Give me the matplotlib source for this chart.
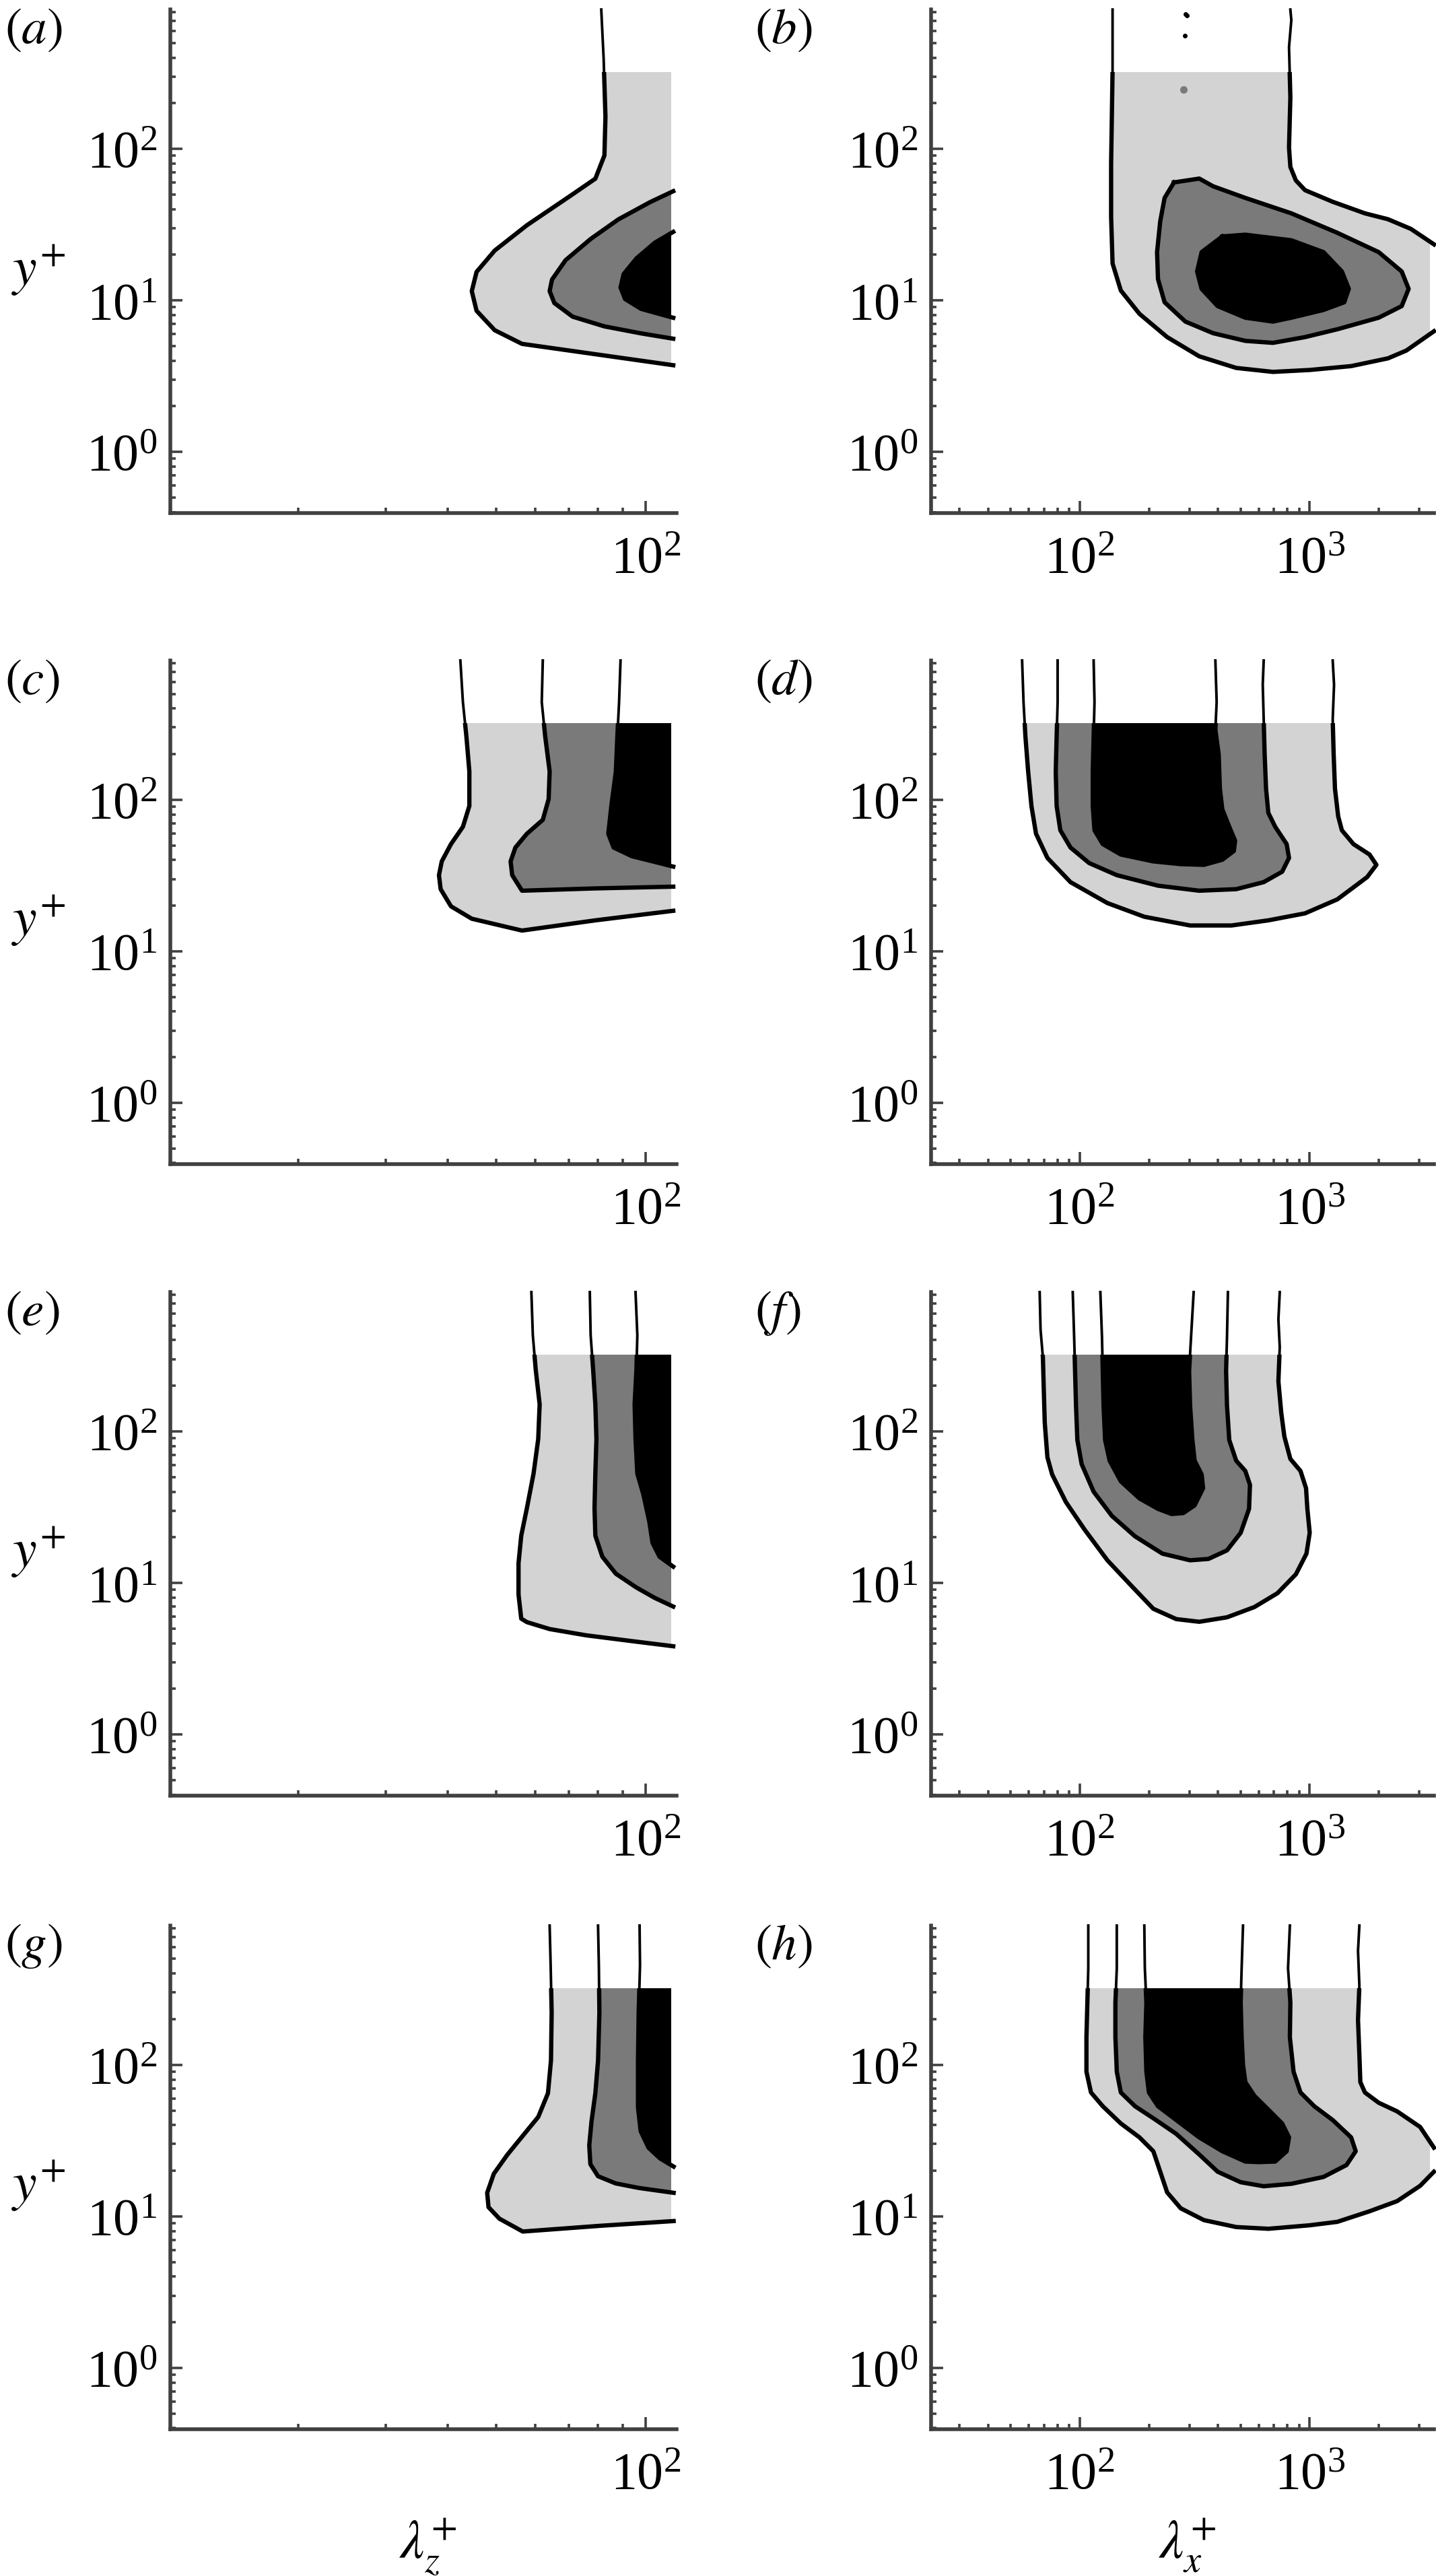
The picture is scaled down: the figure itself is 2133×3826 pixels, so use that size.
import numpy as np
import matplotlib
matplotlib.use("Agg")
import matplotlib.pyplot as plt
from matplotlib.patches import Rectangle
from matplotlib.ticker import LogLocator, NullFormatter

plt.rcParams['mathtext.fontset'] = 'stix'
plt.rcParams['font.family'] = ['Liberation Serif', 'DejaVu Serif']

# ---- data: contour outlines (lambda+, y+) ----
# levels: 1 = light grey, 2 = mid grey, 3 = black
a1 = [(81.4, 830), (82.3, 395), (83.0, 163), (82.6, 90.4), (79.2, 63.5), (71.3, 50.1), (57.7, 31.3),
      (49.7, 21.3), (45.7, 15.4), (44.7, 11.5), (45.7, 8.53), (49.7, 6.35), (56.4, 5.16), (113.6, 3.73)]
a2 = [(113.6, 52.5), (102.1, 44.5), (88.1, 34.2), (77.5, 25.4), (69.0, 18.4), (64.8, 13.7), (64.1, 11.5),
      (65.5, 9.6), (71.3, 7.8), (82.6, 6.73), (97.9, 6.05), (113.6, 5.58)]
a3 = [(113.6, 28.3), (104.3, 24.0), (95.8, 18.9), (90.3, 14.9), (89.0, 12.15), (90.9, 10.2),
      (97.9, 8.78), (113.6, 7.67)]

b1_left = [(139, 830), (139, 330), (138, 163), (137, 80.5), (137, 35.4), (139, 17.5), (151, 11.6),
           (182, 8.14), (240, 5.72), (331, 4.27), (479, 3.58), (692, 3.37), (1000, 3.47), (1514, 3.68),
           (2188, 4.14), (2630, 4.66), (3470, 6.25)]
b1_right = [(3470, 23.4), (2754, 29.6), (2188, 34.3), (1738, 37.5), (1259, 44.7), (955, 53.3), (871, 61.8),
            (824, 75.9), (813, 102), (824, 218), (813, 469), (832, 706), (824, 830)]
b2 = [(257, 60.0), (331, 63.6), (380, 56.6), (525, 47.4), (832, 37.5), (1318, 27.9), (1995, 20.8),
      (2512, 15.5), (2692, 11.9), (2512, 9.16), (1995, 7.68), (1318, 6.44), (955, 5.72), (692, 5.24),
      (525, 5.40), (380, 6.07), (288, 7.24), (234, 9.71), (219, 13.8), (217, 20.8), (224, 33.3),
      (234, 47.4), (257, 60.0)]
b3 = [(417, 26.4), (525, 27.1), (832, 24.9), (1148, 20.8), (1380, 15.5), (1479, 11.9), (1413, 9.71),
      (1148, 8.64), (832, 7.68), (692, 7.24), (525, 7.68), (398, 9.16), (339, 11.9), (324, 15.5),
      (339, 20.8), (417, 26.4)]
b_specks = [(288, 775), (292, 760), (287, 560)]
b_blob = [(282, 245)]

c1 = [(42.4, 830), (42.9, 441), (43.6, 261), (44.2, 154), (44.2, 91), (42.9, 66.3), (40.6, 51.0),
      (38.9, 39.2), (38.4, 31.8), (38.7, 25.7), (40.6, 19.8), (44.7, 16.4), (56.4, 13.7), (79.2, 16.0),
      (113.6, 18.5)]
c2 = [(62.1, 830), (61.8, 441), (62.8, 261), (64.1, 154), (63.8, 101), (62.1, 73.7), (57.7, 59.7),
      (54.7, 48.4), (53.5, 39.2), (53.9, 31.8), (56.4, 25.1), (79.2, 26.0), (113.6, 26.7)]
c3 = [(89.0, 830), (88.4, 441), (87.7, 261), (87.1, 154), (85.3, 91), (84.1, 59.7), (86.2, 48.4),
      (93.8, 42.4), (106.6, 38.2), (113.6, 36.2)]

d1 = [(56.2, 830), (57.0, 441), (58.1, 261), (59.7, 154), (61.7, 91), (64.6, 59.7), (72.4, 41.3),
      (91.2, 28.6), (132, 20.8), (191, 16.9), (302, 14.8), (457, 14.8), (661, 16.0), (955, 17.8),
      (1318, 22.0), (1585, 27.1), (1778, 30.9), (1950, 37.2), (1820, 43.5), (1549, 51.0), (1380, 62.9),
      (1330, 77.7), (1288, 118), (1271, 200), (1259, 339), (1276, 574), (1259, 830)]
d2 = [(80.2, 830), (80.2, 441), (79.4, 261), (78.7, 154), (79.4, 91), (82.4, 62.9), (91.2, 48.4),
      (110, 38.2), (145, 31.8), (219, 27.1), (331, 25.1), (479, 25.7), (631, 28.6), (759, 33.5),
      (813, 41.3), (794, 51.0), (708, 66.3), (661, 81.9), (646, 118), (637, 200), (631, 339),
      (625, 574), (631, 830)]
d3 = [(115, 830), (116, 441), (115, 261), (114, 154), (114, 91), (116, 62.9), (126, 51.0), (151, 43.5),
      (209, 39.2), (275, 37.6), (347, 37.2), (417, 40.2), (468, 45.9), (474, 53.7), (447, 66.3),
      (417, 86.3), (407, 118), (402, 200), (389, 289), (394, 441), (389, 830)]

e1 = [(58.9, 830), (59.3, 431), (60.1, 255), (61.2, 151), (60.8, 89.1), (59.5, 52.7), (57.7, 31.2),
      (56.2, 20.5), (55.5, 13.5), (55.5, 8.39), (56.2, 5.81), (57.7, 5.51), (64.1, 4.96), (75.9, 4.51),
      (93.8, 4.13), (113.6, 3.82)]
e2 = [(77.2, 830), (77.5, 431), (78.4, 255), (79.2, 151), (79.6, 89.1), (79.2, 52.7), (78.9, 31.2),
      (79.2, 20.5), (81.8, 14.9), (87.1, 11.5), (95.8, 9.32), (104.3, 7.96), (113.6, 6.98)]
e3 = [(95.4, 830), (96.2, 431), (95.8, 255), (95.0, 151), (95.4, 89.1), (96.2, 52.7), (98.9, 38.5),
      (101.7, 25.3), (103.2, 18.4), (106.6, 14.9), (113.6, 12.8)]

f1 = [(67.0, 830), (67.6, 468), (69.2, 308), (69.8, 192), (70.5, 114), (72.4, 67.5), (75.9, 52.0),
      (87.1, 34.2), (105, 22.5), (132, 14.1), (166, 9.74), (209, 6.75), (263, 5.77), (331, 5.54),
      (437, 5.93), (575, 6.93), (724, 8.55), (871, 11.4), (968, 15.6), (1000, 21.4), (977, 30.8),
      (964, 42.2), (912, 54.8), (824, 65.8), (776, 92.5), (752, 133), (731, 214), (741, 360),
      (731, 548), (741, 830)]
f2 = [(93.3, 830), (94.6, 422), (95.5, 250), (96.4, 148), (97.7, 87.7), (102, 60.8), (115, 40.0),
      (138, 27.7), (174, 20.3), (229, 15.6), (302, 14.1), (363, 14.4), (437, 16.4), (501, 21.4),
      (545, 30.8), (550, 44.4), (525, 54.8), (479, 64.1), (447, 87.7), (437, 148), (433, 250),
      (437, 422), (441, 830)]
f3 = [(123, 830), (125, 422), (126, 250), (127, 148), (129, 87.7), (135, 64.1), (151, 46.8),
      (182, 36.1), (219, 30.8), (251, 28.5), (282, 28.9), (316, 32.5), (344, 42.2), (339, 52.0),
      (316, 64.1), (309, 87.7), (302, 148), (299, 250), (305, 422), (313, 830)]

g1 = [(64.1, 830), (64.4, 453), (64.7, 221), (64.5, 107), (63.6, 64.9), (60.8, 45.3), (56.6, 34.0),
      (52.7, 25.5), (49.5, 19.1), (48.0, 14.3), (48.3, 11.5), (50.8, 9.65), (56.6, 7.94), (80.9, 8.66),
      (113.8, 9.31)]
g2 = [(80.2, 830), (80.5, 453), (80.7, 221), (80.2, 107), (79.2, 64.9), (77.8, 42.2), (77.0, 29.4),
      (77.4, 22.1), (80.2, 18.4), (87.0, 16.5), (96.8, 15.4), (113.8, 14.3)]
g3 = [(97.2, 830), (97.4, 453), (96.8, 221), (96.5, 107), (96.5, 52.3), (97.7, 36.5), (101.3, 28.4),
      (106.9, 24.1), (113.8, 21.3)]

h1_left = [(109, 830), (109, 434), (108, 257), (107, 152), (107, 90.0), (112, 65.7), (126, 53.3),
           (151, 41.0), (182, 33.2), (209, 26.9), (224, 19.7), (240, 14.4), (275, 11.3), (347, 9.44),
           (479, 8.50), (661, 8.28), (1000, 8.73), (1318, 9.20), (1820, 10.8), (2399, 12.6),
           (3020, 15.9), (3467, 19.7)]
h1_right = [(3467, 28.4), (3020, 38.9), (2399, 49.3), (1995, 56.2), (1738, 65.7), (1660, 76.9),
            (1644, 117), (1622, 198), (1644, 334), (1622, 565), (1644, 830)]
h2 = [(145, 830), (145, 434), (143, 257), (143, 152), (145, 90), (151, 65.7), (174, 53.3), (209, 44.4),
      (263, 35.0), (331, 25.6), (398, 19.7), (501, 16.8), (631, 15.8), (832, 16.4), (1148, 18.2),
      (1445, 21.8), (1585, 26.9), (1514, 33.2), (1259, 43.2), (1047, 53.3), (912, 65.7), (851, 90),
      (820, 152), (824, 257), (805, 434), (820, 830)]
h3 = [(191, 830), (192, 434), (195, 257), (193, 152), (195, 90), (200, 65.7), (219, 53.3), (263, 43.2),
      (331, 33.2), (417, 26.9), (525, 23.0), (603, 22.8), (708, 23.0), (794, 26.9), (813, 33.2),
      (759, 41.0), (661, 50.6), (575, 62.4), (525, 76.9), (513, 100), (506, 152), (501, 257),
      (506, 434), (513, 830)]

panel_labels = ['a', 'b', 'c', 'd', 'e', 'f', 'g', 'h']
panels = [
    [[a1], [a2], [a3]],
    [[b1_left, b1_right], [b2], [b3]],
    [[c1], [c2], [c3]],
    [[d1], [d2], [d3]],
    [[e1], [e2], [e3]],
    [[f1], [f2], [f3]],
    [[g1], [g2], [g3]],
    [[h1_left, h1_right], [h2], [h3]],
]

Y_TOP = 320          # top of filled data (y+ ~ Re_tau)
YLIM = (0.394, 830)
XLIM_Z = (11.07, 115.4)
XLIM_X = (22.6, 3470)
XR_Z = 112.6         # right end of filled data, lambda_z
XR_X = 3340          # right end of filled data, lambda_x
fill_colors = ['#d3d3d3', '#7a7a7a', '#000000']
axis_col = '#404040'

fig = plt.figure(figsize=(2133 / 200, 3826 / 200), dpi=200)
row_bottoms = [0.8008, 0.5481, 0.3029, 0.0570]
row_h = 0.1955
col_left = [0.1186, 0.6484]
col_w = [0.3526, 0.3502]


def outline(segs, xr):
    pts = np.array([p for s in segs for p in s], dtype=float)
    x, y = pts[:, 0], pts[:, 1]
    if x[-1] >= xr or y[-1] >= Y_TOP:
        x = np.append(x, x.max() * 3)
        y = np.append(y, y.max() * 3)
    return x, y


for i, levels in enumerate(panels):
    row, col = divmod(i, 2)
    ax = fig.add_axes([col_left[col], row_bottoms[row], col_w[col], row_h])
    ax.set_xscale('log')
    ax.set_yscale('log')
    xlim = XLIM_Z if col == 0 else XLIM_X
    xr = XR_Z if col == 0 else XR_X

    box = Rectangle((1e-3, 1e-3), xr - 1e-3, Y_TOP - 1e-3, transform=ax.transData)
    lower = Rectangle((1e-3, 1e-3), 1e6, Y_TOP - 1e-3, transform=ax.transData)
    upper = Rectangle((1e-3, Y_TOP), 1e6, 1e6, transform=ax.transData)

    for lev, segs in enumerate(levels):
        x, y = outline(segs, xr)
        for p in ax.fill(x, y, color=fill_colors[lev], lw=0, zorder=1 + lev):
            p.set_clip_path(box)
    for segs in levels:
        for s in segs:
            sx, sy = np.array(s, dtype=float).T
            ln, = ax.plot(sx, sy, color='k', lw=2.3, zorder=5, solid_joinstyle='round')
            ln.set_clip_path(lower)
            ln2, = ax.plot(sx, sy, color='k', lw=1.4, zorder=5)
            ln2.set_clip_path(upper)

    if i == 1:
        sx, sy = np.array(b_specks).T
        ax.plot(sx, sy, 'k.', ms=3, zorder=6)
        bx, by = np.array(b_blob).T
        ax.plot(bx, by, marker='o', ls='none', color='#7a7a7a', ms=3, zorder=6)

    ax.set_xlim(*xlim)
    ax.set_ylim(*YLIM)
    for s in ['top', 'right']:
        ax.spines[s].set_visible(False)
    for s in ['left', 'bottom']:
        ax.spines[s].set_linewidth(2.0)
        ax.spines[s].set_color(axis_col)
    ax.yaxis.set_major_locator(LogLocator(base=10, numticks=12))
    ax.yaxis.set_minor_locator(LogLocator(base=10, subs=np.arange(2, 10), numticks=40))
    ax.xaxis.set_major_locator(LogLocator(base=10, numticks=12))
    ax.xaxis.set_minor_locator(LogLocator(base=10, subs=np.arange(2, 10), numticks=40))
    ax.xaxis.set_minor_formatter(NullFormatter())
    ax.yaxis.set_minor_formatter(NullFormatter())
    ax.tick_params(which='both', direction='in', color=axis_col, width=1.3)
    ax.tick_params(which='major', length=6.5, labelsize=28)
    ax.tick_params(which='minor', length=3)
    ax.tick_params(axis='x', which='major', pad=12)
    ax.tick_params(axis='y', which='major', pad=7)

    lx = -0.327 if col == 0 else -0.351
    ax.text(lx, 0.9586, r'$(\mathit{%s})$' % panel_labels[i], transform=ax.transAxes,
            ha='left', va='center', fontsize=27)
    if col == 0:
        ax.text(-0.26, 0.483, r'$y^{+}$', transform=ax.transAxes,
                ha='center', va='center', fontsize=29)

fig.text(0.298, 0.0068, r'$\lambda_{z}^{+}$', ha='center', va='baseline', fontsize=29)
fig.text(0.8266, 0.0068, r'$\lambda_{x}^{+}$', ha='center', va='baseline', fontsize=29)

fig.savefig('out.png', dpi=200)
